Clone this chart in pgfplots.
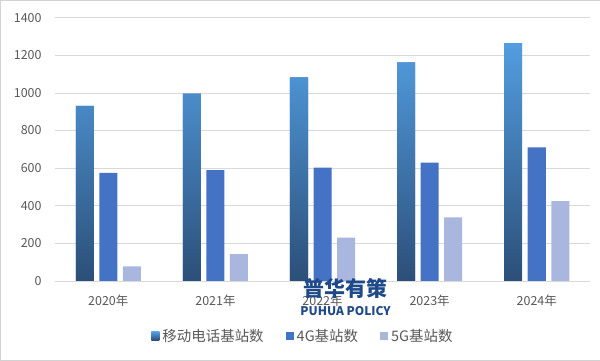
\documentclass[border=0pt]{standalone}
\usepackage{pgfplots}
\pgfplotsset{compat=1.18}
\usepackage{fontspec}
\setmainfont{Noto Sans CJK SC}
\definecolor{txtgray}{HTML}{595959}
\definecolor{gridgray}{HTML}{D9D9D9}
\definecolor{topblue}{HTML}{529DE0}
\definecolor{botblue}{HTML}{2C4F78}
\definecolor{midblue}{HTML}{4472C4}
\definecolor{lightblue}{HTML}{A9B7DE}
\definecolor{wmblue}{HTML}{1F4A8A}
\begin{document}
\begin{tikzpicture}[x=1bp,y=1bp]
\draw[gray!35, fill=white] (0.5,0.5) rectangle (599.5,360.5);
\begin{axis}[
  at={(55bp,80bp)}, anchor=south west,
  scale only axis, width=535bp, height=263bp,
  ymin=0, ymax=1400, ytick={0,200,...,1400},
  xmin=-0.5, xmax=4.5, xtick={0,1,2,3,4},
  xticklabels={2020年,2021年,2022年,2023年,2024年},
  ymajorgrids, grid style={gridgray, line width=0.8pt},
  axis line style={draw=none},
  major tick length=0pt,
  tick label style={font=\fontsize{12.5}{14}\selectfont, text=txtgray},
  /pgf/number format/assume math mode=true,
  /pgf/number format/1000 sep={},
  yticklabel style={anchor=east, inner sep=0pt, xshift=-13bp},
  xticklabel style={anchor=center, inner sep=0pt, yshift=-20bp},
  ybar, bar width=18bp,
  legend style={at={(0.4635,-0.209)}, anchor=center, draw=none, fill=none,
    legend columns=3, font=\fontsize{14.5}{16}\selectfont, text=txtgray,
    /tikz/every odd column/.append style={column sep=1bp},
    /tikz/every even column/.append style={column sep=20bp}},
  legend image code/.code={\fill[#1] (0bp,-4bp) rectangle (8bp,4bp);},
  clip=false,
]
\addplot[draw=none, bar shift=-23.5bp, top color=topblue, bottom color=botblue, fill=midblue]
  coordinates {(0,931) (1,996) (2,1083) (3,1162) (4,1265)};
\addplot[draw=none, bar shift=0bp, fill=midblue]
  coordinates {(0,575) (1,590) (2,603) (3,629) (4,711)};
\addplot[draw=none, bar shift=23.5bp, fill=lightblue]
  coordinates {(0,77) (1,143) (2,231) (3,338) (4,425)};
\legend{移动电话基站数,4G基站数,5G基站数}
\end{axis}
\node[text=wmblue, font=\fontsize{21}{24}\selectfont\bfseries] at (345.5bp,73bp) {普华有策};
\node[text=wmblue, font=\fontsize{12}{14}\selectfont\bfseries] at (345.5bp,50bp) {PUHUA POLICY};
\end{tikzpicture}
\end{document}
